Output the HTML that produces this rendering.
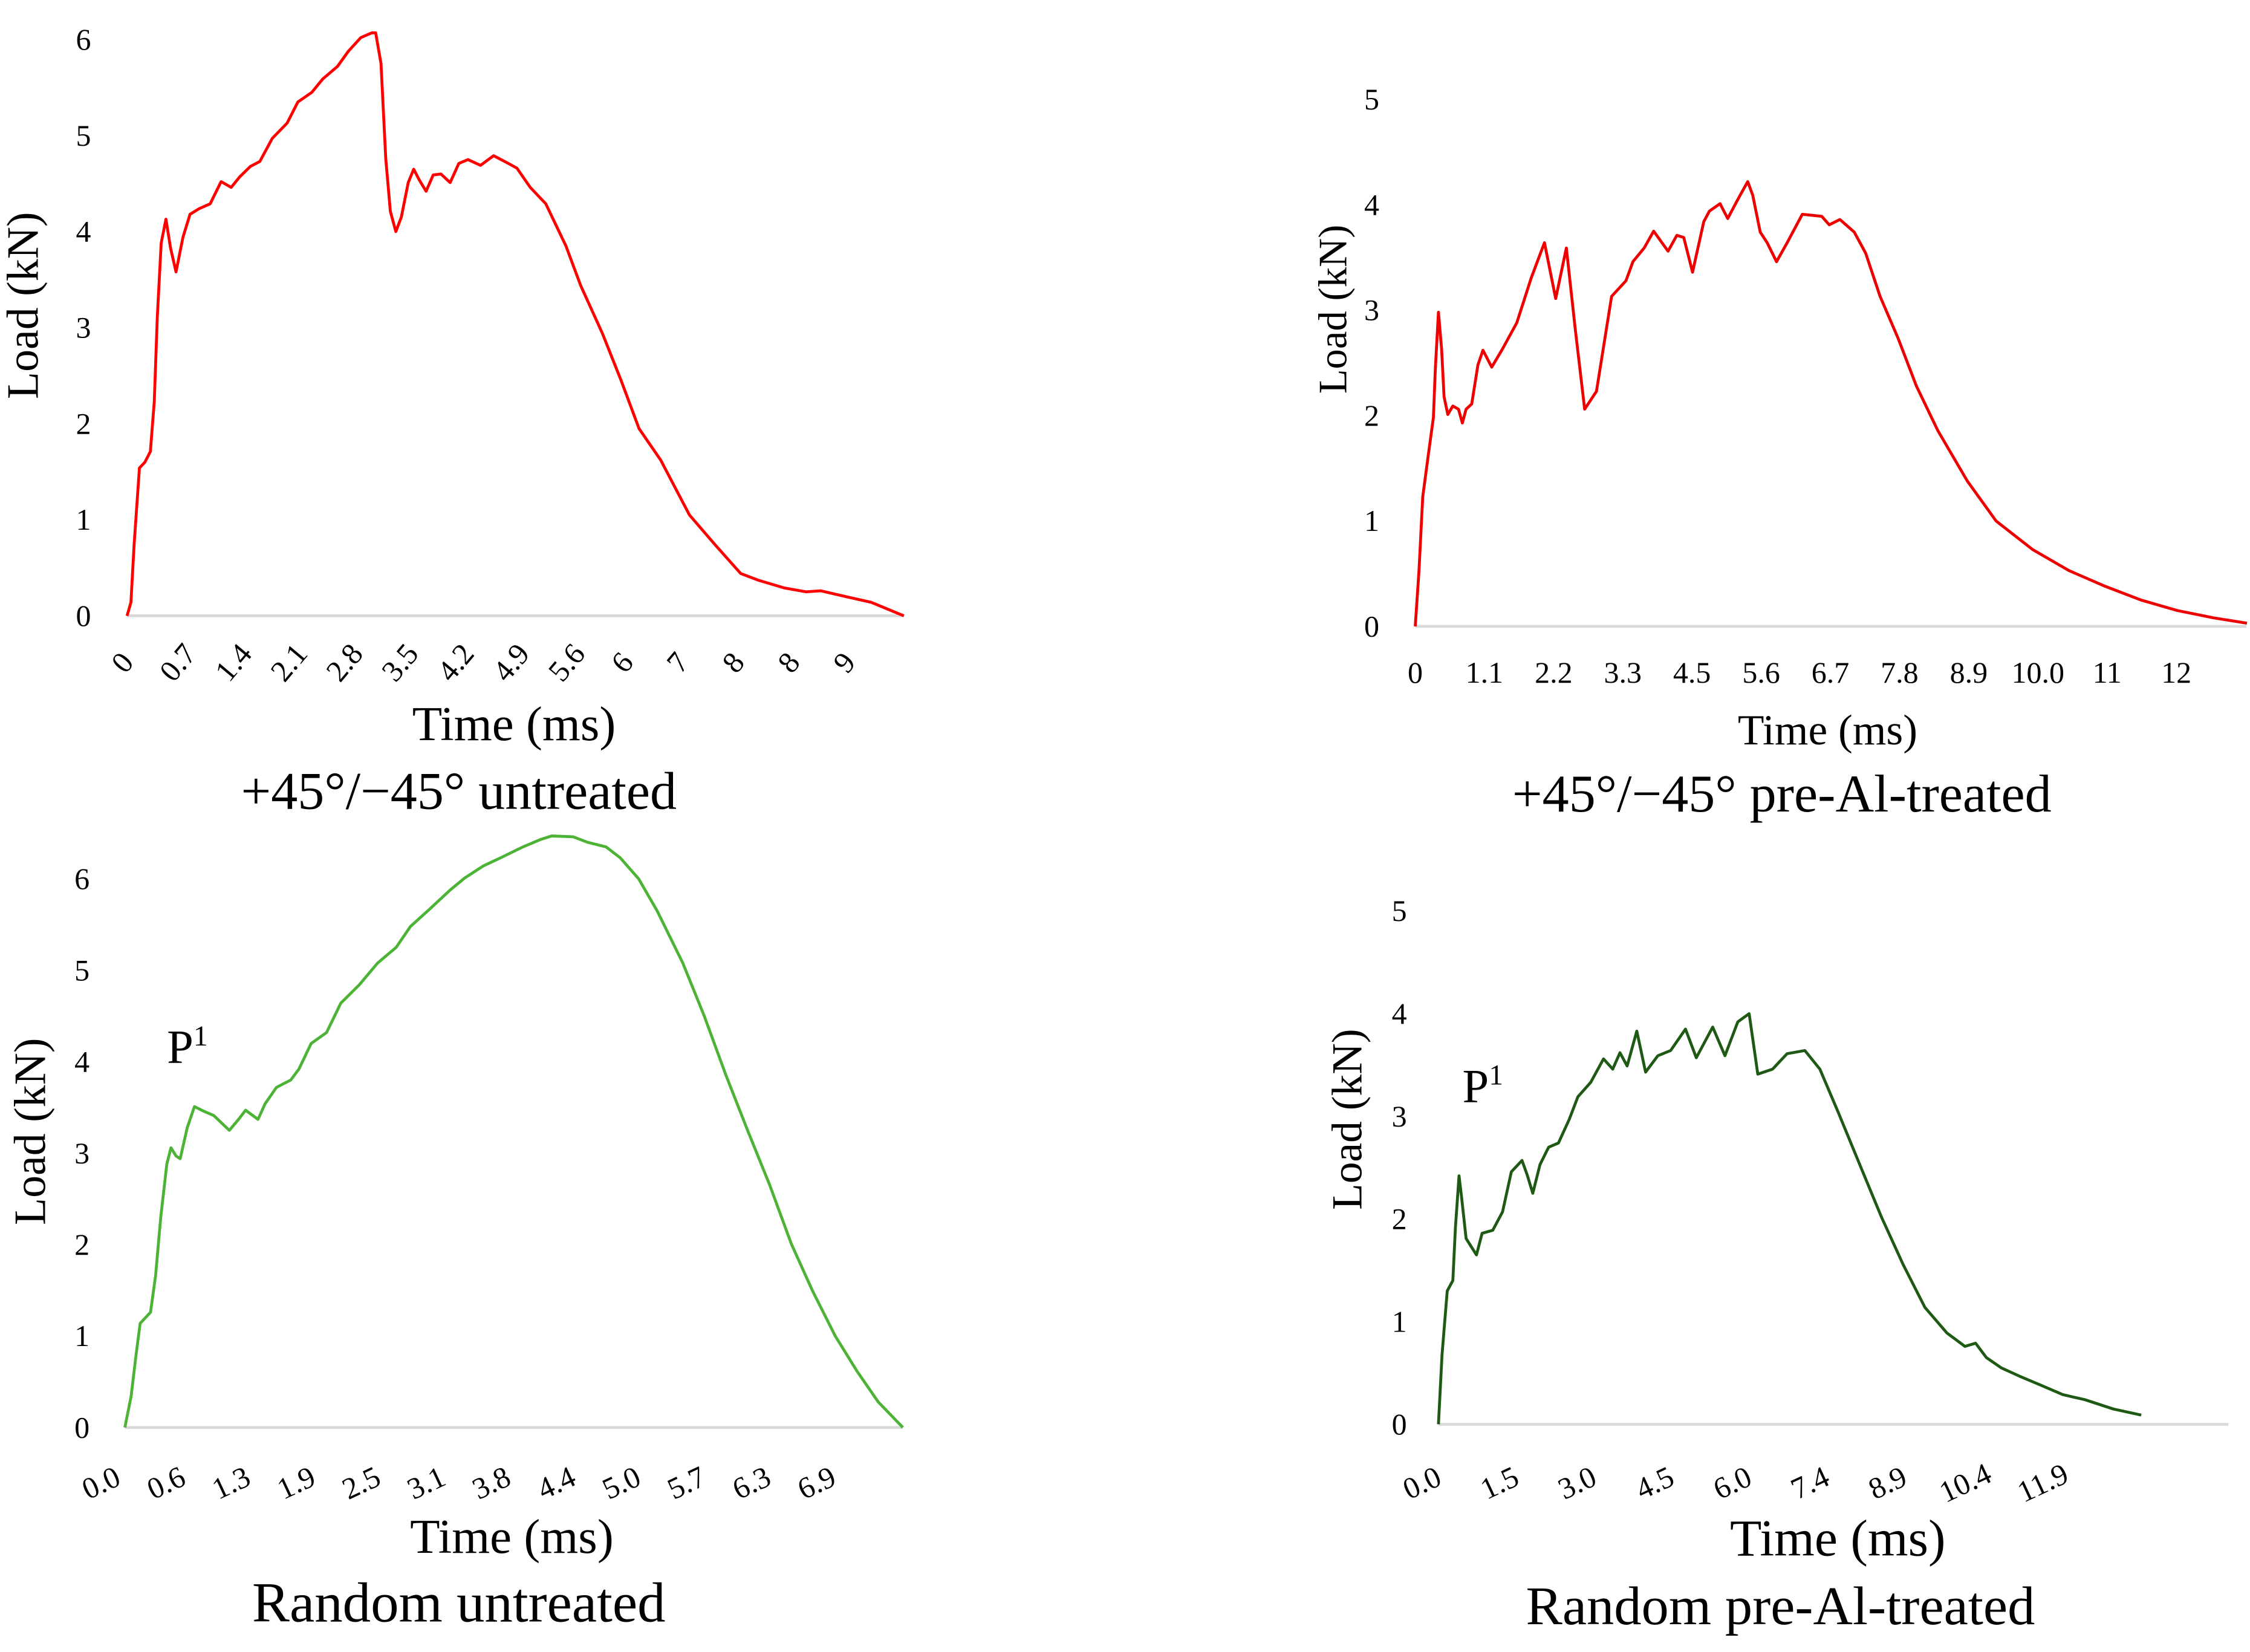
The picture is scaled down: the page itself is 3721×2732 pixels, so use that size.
<!DOCTYPE html>
<html><head><meta charset="utf-8"><style>
html,body{margin:0;padding:0;background:#fff;}
svg{display:block;}
text{font-family:"Liberation Serif",serif;fill:#000;}
</style></head><body>
<svg id="fig" width="3721" height="2732" viewBox="0 0 1562 1147" preserveAspectRatio="none" xmlns="http://www.w3.org/2000/svg"></svg>
<script>
// ---- chart 1: +45/-45 untreated ----
const c1Time=[0,.05,.09,.16,.23,.3,.35,.39,.44,.5,.56,.63,.72,.81,.93,1.07,1.21,1.34,1.45,1.59,1.71,1.87,2.06,2.2,2.38,2.52,2.71,2.85,3.01,3.15,3.2,3.27,3.33,3.39,3.46,3.53,3.62,3.69,3.76,3.85,3.94,4.04,4.16,4.27,4.39,4.55,4.72,4.91,5.02,5.19,5.39,5.65,5.84,6.12,6.36,6.59,6.87,7.24,7.57,7.9,8.13,8.46,8.74,8.93,9.25,9.58,10];
const c1Load=[0,.14,.74,1.54,1.6,1.71,2.23,3.11,3.88,4.13,3.83,3.58,3.94,4.18,4.24,4.29,4.52,4.46,4.57,4.68,4.73,4.97,5.13,5.35,5.45,5.59,5.72,5.88,6.02,6.07,6.07,5.75,4.76,4.21,4.0,4.15,4.51,4.65,4.54,4.42,4.59,4.6,4.51,4.71,4.75,4.69,4.79,4.71,4.66,4.46,4.29,3.85,3.44,2.94,2.45,1.95,1.62,1.05,.74,.44,.37,.29,.25,.26,.2,.14,0];
const c1XTicks=["0","0.7","1.4","2.1","2.8","3.5","4.2","4.9","5.6","6","7","8","8","9"];
const c1YTicks=[0,1,2,3,4,5,6];
// ---- chart 2: +45/-45 pre-Al-treated ----
const c2Time=[0,.06,.12,.21,.29,.32,.37,.42,.46,.52,.6,.69,.75,.81,.9,1.0,1.08,1.22,1.39,1.62,1.85,2.06,2.24,2.41,2.55,2.7,2.89,3.13,3.36,3.47,3.65,3.8,4.03,4.17,4.28,4.42,4.6,4.69,4.86,4.98,5.15,5.3,5.38,5.5,5.61,5.76,5.93,6.17,6.48,6.6,6.77,7.0,7.18,7.41,7.7,7.99,8.33,8.8,9.26,9.84,10.42,11.0,11.57,12.15,12.73,13.26];
const c2Load=[0,.53,1.23,1.63,1.98,2.43,2.98,2.63,2.18,2.01,2.09,2.06,1.93,2.06,2.11,2.48,2.62,2.46,2.63,2.88,3.31,3.64,3.11,3.59,2.83,2.06,2.23,3.13,3.28,3.46,3.59,3.75,3.56,3.71,3.69,3.36,3.84,3.94,4.01,3.87,4.06,4.22,4.09,3.74,3.64,3.46,3.64,3.91,3.89,3.81,3.86,3.74,3.54,3.13,2.73,2.28,1.86,1.38,1.0,.73,.53,.38,.25,.15,.08,.03];
const c2XTicks=["0","1.1","2.2","3.3","4.5","5.6","6.7","7.8","8.9","10.0","11","12"];
const c2YTicks=[0,1,2,3,4,5];
// ---- chart 3: Random untreated ----
const c3Time=[0,.06,.11,.15,.2,.25,.3,.35,.41,.45,.5,.54,.61,.68,.77,.87,1.02,1.11,1.18,1.3,1.37,1.48,1.62,1.7,1.82,1.97,2.11,2.29,2.47,2.65,2.79,2.96,3.18,3.32,3.5,3.67,3.89,4.06,4.17,4.38,4.52,4.7,4.84,5.02,5.2,5.45,5.66,5.87,6.09,6.3,6.51,6.72,6.94,7.15,7.36,7.6];
const c3Load=[0,.34,.8,1.14,1.2,1.26,1.66,2.3,2.88,3.06,2.97,2.94,3.28,3.51,3.46,3.41,3.25,3.37,3.47,3.37,3.54,3.72,3.8,3.92,4.2,4.32,4.64,4.84,5.08,5.25,5.48,5.65,5.88,6.01,6.14,6.23,6.35,6.43,6.47,6.46,6.4,6.35,6.23,6.0,5.65,5.08,4.5,3.86,3.23,2.65,2.01,1.49,1.0,.62,.28,0];
const c3XTicks=["0.0","0.6","1.3","1.9","2.5","3.1","3.8","4.4","5.0","5.7","6.3","6.9"];
const c3YTicks=[0,1,2,3,4,5,6];
// ---- chart 4: Random pre-Al-treated ----
const c4Time=[0,.07,.17,.28,.33,.4,.45,.54,.74,.85,1.06,1.25,1.42,1.63,1.73,1.84,1.98,2.15,2.34,2.55,2.72,2.97,3.22,3.4,3.54,3.68,3.87,4.04,4.28,4.53,4.82,5.03,5.35,5.59,5.84,6.06,6.23,6.52,6.8,7.15,7.44,7.79,8.22,8.64,9.07,9.49,9.92,10.27,10.48,10.69,10.98,11.33,11.76,12.18,12.61,13.17,13.71];
const c4Load=[0,.68,1.3,1.4,1.92,2.42,2.22,1.81,1.65,1.86,1.89,2.07,2.46,2.57,2.43,2.25,2.53,2.7,2.74,2.97,3.19,3.33,3.56,3.46,3.62,3.49,3.83,3.43,3.59,3.64,3.85,3.57,3.87,3.59,3.92,4.0,3.41,3.46,3.61,3.64,3.46,3.05,2.53,2.02,1.55,1.14,.89,.76,.79,.65,.55,.47,.38,.29,.24,.15,.09];
const c4XTicks=["0.0","1.5","3.0","4.5","6.0","7.4","8.9","10.4","11.9"];
const c4YTicks=[0,1,2,3,4,5];

const NS="http://www.w3.org/2000/svg";
const svg=document.getElementById('fig');
function mk(tag,attrs,parent){const e=document.createElementNS(NS,tag);for(const k in attrs)e.setAttribute(k,attrs[k]);(parent||svg).appendChild(e);return e;}

function chart(c){
  const X=zx=>c.ox+zx*0.504, Y=zy=>c.oy+zy*0.367;
  const g=mk('g',{});
  
  
  const xs=t=>X(c.x0+t*c.pxms), ys=l=>Y(c.y0-l*c.unit);
  const ax=mk('line',{x1:X(c.x0),x2:X(c.xEnd),y1:ys(0),y2:ys(0),stroke:'#d9d9d9','stroke-width':2},g);
  
  
  c.yt.forEach(v=>{
    const t=mk('text',{x:X(c.ylx),y:ys(v)+7,'font-size':c.tfs,'text-anchor':'middle'},g);
    t.textContent=v;
    
    
  });
  c.xt.forEach((s,i)=>{
    const cx=X(c.xl0+i*c.xlStep), cy=Y(c.xly);
    const t=mk('text',{x:cx,y:cy+6,'font-size':c.tfs,'text-anchor':'middle',transform:c.rot?`rotate(${c.rot} ${cx} ${cy})`:''},g);
    t.textContent=s;
    
    
  });
  const d=c.time.map((t,i)=>(i?'L':'M')+xs(t).toFixed(1)+','+ys(c.load[i]).toFixed(1)).join(' ');
  const p=mk('path',{d:d,fill:'none',stroke:c.color,'stroke-width':2,'stroke-linejoin':'round'},g);
  
  
  const yt=mk('text',{x:0,y:0,'font-size':c.yfs,'text-anchor':'middle',transform:`translate(${X(c.ytx)},${Y(c.yty)}) rotate(-90)`},g);
  yt.textContent='Load (kN)';
  
  
  const xt=mk('text',{x:X(c.xtx),y:Y(c.xty),'font-size':c.xfs,'text-anchor':'middle'},g);
  xt.textContent='Time (ms)';
  
  
  const st=mk('text',{x:X(c.stx),y:Y(c.sty),'font-size':c.sfs,'text-anchor':'middle'},g);
  st.textContent=c.sub;
  
  
  if(c.p1){
    const pt=mk('text',{x:X(c.p1[0]),y:Y(c.p1[1]),'font-size':33},g);
    pt.innerHTML='P<tspan font-size="20" dy="-12">1</tspan>';
    
    
  }
}
chart({name:'chart-45-untreated',ox:0,oy:0,x0:175,xEnd:1245,pxms:107,y0:1165,unit:181.7,time:c1Time,load:c1Load,color:'#ff0000',
  xt:c1XTicks,yt:c1YTicks,ylx:115,xl0:170,xlStep:76.5,xly:1255,rot:-50,tfs:21,yfs:31,ytx:52,yty:578,xtx:708,xty:1400,xfs:34,stx:632,sty:1530,sfs:37,sub:'+45°/−45° untreated'});
chart({name:'chart-45-pre-al-treated',ox:780.9,oy:0,x0:400,xEnd:1545,pxms:86.4,y0:1185,unit:199.4,time:c2Time,load:c2Load,color:'#ee0000',
  xt:c2XTicks,yt:c2YTicks,ylx:340,xl0:400,xlStep:95.3,xly:1275,rot:0,tfs:21,yfs:28,ytx:305,yty:585,xtx:968,xty:1408,xfs:30,stx:905,sty:1535,sfs:37,sub:'+45°/−45° pre-Al-treated'});
chart({name:'chart-random-untreated',ox:0,oy:573.5,x0:172,xEnd:1243,pxms:141,y0:1138,unit:173,time:c3Time,load:c3Load,color:'#4cb336',
  xt:c3XTicks,yt:c3YTicks,ylx:113,xl0:140,xlStep:89.6,xly:1245,rot:-25,tfs:21,yfs:31,ytx:62,yty:578,xtx:705,xty:1375,xfs:34,stx:632,sty:1505,sfs:39,sub:'Random untreated',p1:[230,448]});
chart({name:'chart-random-pre-al-treated',ox:780.9,oy:573.5,x0:432,xEnd:1520,pxms:70.6,y0:1132,unit:194.25,time:c4Time,load:c4Load,color:'#1e5a14',
  xt:c4XTicks,yt:c4YTicks,ylx:378,xl0:410,xlStep:106.9,xly:1245,rot:-25,tfs:21,yfs:30,ytx:326,yty:555,xtx:982,xty:1380,xfs:36,stx:903,sty:1510,sfs:38,sub:'Random pre-Al-treated',p1:[465,522]});
</script>
</body></html>
